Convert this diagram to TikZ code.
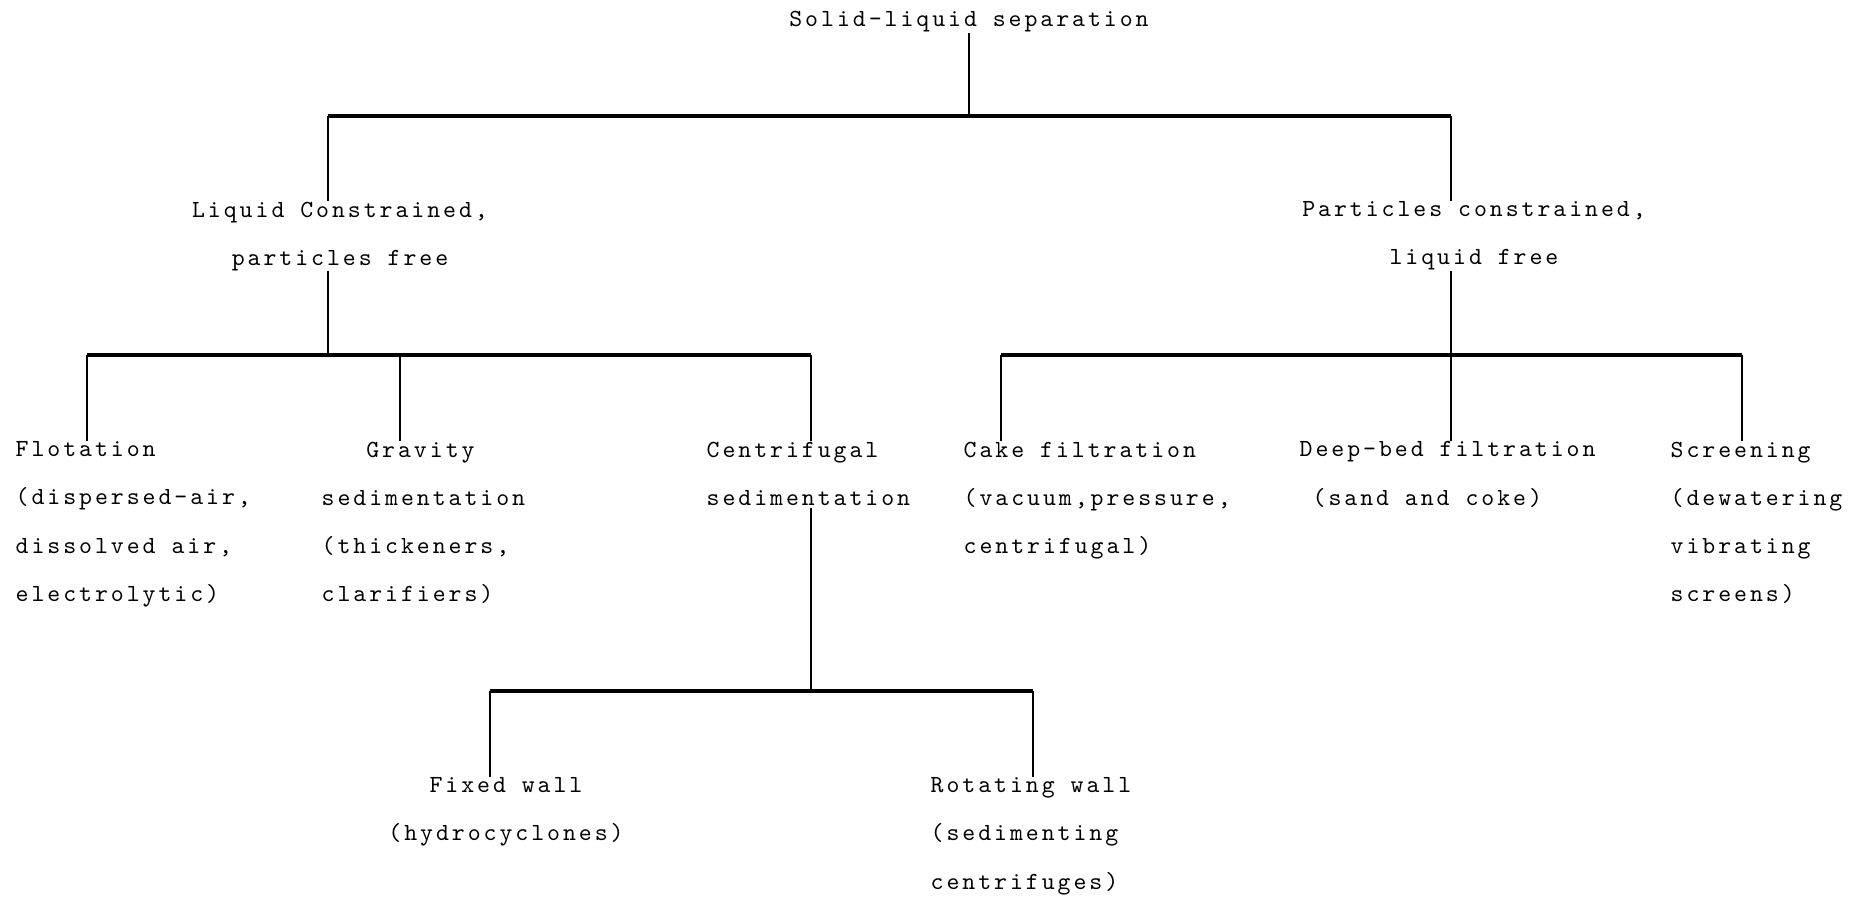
\documentclass[tikz,border=0pt]{standalone}
\usepackage{fontspec}
\setmonofont{lmmono10-regular.otf}[LetterSpace=12]
\usetikzlibrary{positioning,calc}

\begin{document}
\begin{tikzpicture}[x=0.01cm,y=-0.01cm,
  font=\ttfamily\fontsize{7}{13.7}\selectfont,
  every node/.style={inner sep=0pt,execute at begin node=\vphantom{(}},
  lbl/.style={anchor=north west,align=left},
  mid/.style={anchor=north,align=center},
  bar/.style={line width=1pt},
  stem/.style={line width=0.4pt}]
\useasboundingbox[fill=white] (0,0) rectangle (1869,900);

% top level
\node[anchor=north] (title) at (969,9) {Solid-liquid separation};
\coordinate (tbL) at (328,116);
\coordinate (tbR) at (1451,116);
\draw[bar] (tbL) -- (tbR);
\draw[stem] (title.south) -- (title.south |- tbL);

\node[mid] (liq) at (340,201) {Liquid Constrained,\\particles free};
\node[mid] (part) at (1474,201) {Particles constrained,\\liquid free};
\draw[stem] (tbL) -- (tbL |- liq.north);
\draw[stem] (tbR) -- (tbR |- part.north);

% second level bars
\coordinate (lb1) at (87,355);
\coordinate (lb2) at (400,355);
\coordinate (lb3) at (811,355);
\coordinate (lbJ) at (328,355);
\coordinate (rb1) at (1001,355);
\coordinate (rb2) at (1451,355);
\coordinate (rb3) at (1742,355);
\draw[bar] (lb1) -- (lb3) (rb1) -- (rb3);
\draw[stem] (liq.south -| lbJ) -- (lbJ);
\draw[stem] (part.south -| rb2) -- (rb2);

\node[lbl] (flot) at (15,441) {Flotation\\(dispersed-air,\\dissolved air,\\electrolytic)};
\node[lbl] (grav) at (321,441) {\phantom{sed}Gravity\\sedimentation\\(thickeners,\\clarifiers)};
\node[lbl] (cent) at (706,441) {Centrifugal\\sedimentation};
\node[lbl] (cake) at (963,441) {Cake filtration\\(vacuum,pressure,\\centrifugal)};
\node[lbl] (deep) at (1299,441) {Deep-bed filtration\\\phantom{x}(sand and coke)};
\node[lbl] (scr) at (1670,441) {Screening\\(dewatering\\vibrating\\screens)};
\foreach \c/\n in {lb1/flot,lb2/grav,lb3/cent,rb1/cake,rb2/deep,rb3/scr}
  {\draw[stem] (\c) -- (\c |- \n.north);}

% centrifugal branch
\coordinate (cb1) at (490,691);
\coordinate (cbJ) at (811,691);
\coordinate (cb2) at (1033,691);
\draw[bar] (cb1) -- (cb2);
\draw[stem] (cent.south -| cbJ) -- (cbJ);

\node[mid] (fixw) at (506,777) {Fixed wall\\(hydrocyclones)};
\node[lbl] (rotw) at (930,777) {Rotating wall\\(sedimenting\\centrifuges)};
\draw[stem] (cb1) -- (cb1 |- fixw.north);
\draw[stem] (cb2) -- (cb2 |- rotw.north);

\end{tikzpicture}
\end{document}
